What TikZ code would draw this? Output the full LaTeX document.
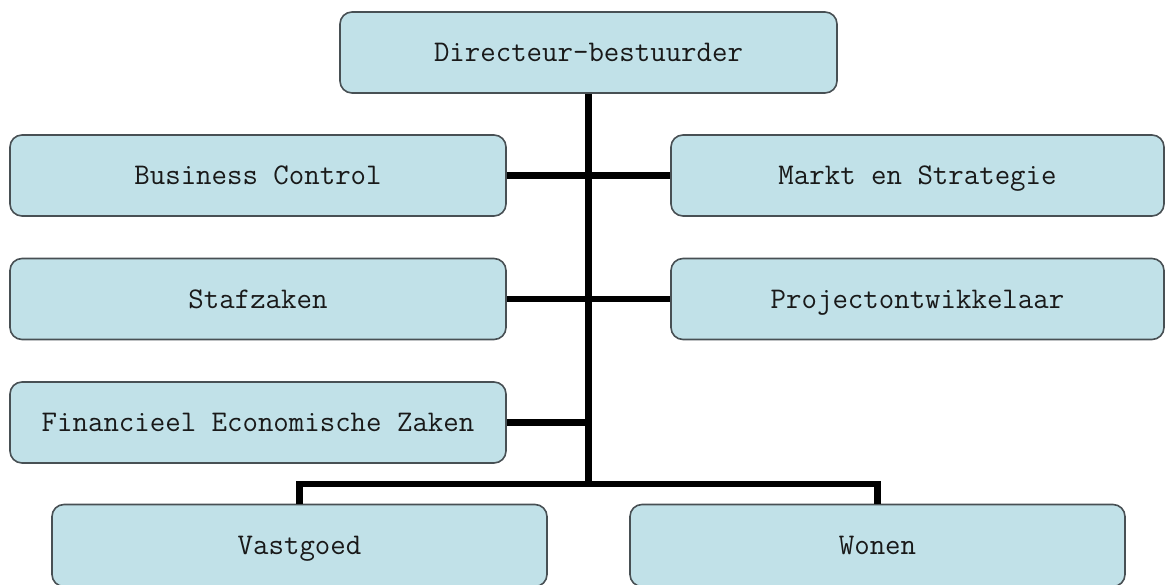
\documentclass[tikz,border=0pt]{standalone}
\definecolor{boxfill}{RGB}{193,225,232}
\definecolor{boxline}{RGB}{72,80,84}
\definecolor{txt}{RGB}{25,25,25}
\begin{document}
\begin{tikzpicture}[x=1pt,y=-1pt,
  orgbox/.style={draw=boxline, line width=1.6pt, fill=boxfill, rounded corners=12pt,
    minimum height=81pt, inner sep=0pt, text=txt, text height=24pt, text depth=6pt,
    font=\ttfamily\fontsize{30}{34}\selectfont},
  wire/.style={draw=black, line width=6.5pt}]
\useasboundingbox (0,0) rectangle (1166,585);
\node[orgbox, minimum width=497pt] (dir) at (588.5,52.5) {Directeur-bestuurder};
\node[orgbox, minimum width=496pt] (bc) at (258,175.5) {Business Control};
\node[orgbox, minimum width=493pt] (ms) at (917.5,175.5) {Markt en Strategie};
\node[orgbox, minimum width=496pt] (sz) at (258,299) {Stafzaken};
\node[orgbox, minimum width=493pt] (po) at (917.5,299) {Projectontwikkelaar};
\node[orgbox, minimum width=496pt] (fez) at (258,422.5) {Financieel Economische Zaken};
\node[orgbox, minimum width=495pt, minimum height=82pt] (vg) at (299.5,545.5) {Vastgoed};
\node[orgbox, minimum width=495pt, minimum height=82pt] (wo) at (877.5,545.5) {Wonen};
\coordinate (bus) at (588.5,484);
\draw[wire] (dir.south) -- (bus);
\draw[wire] (bc.east) -- (ms.west);
\draw[wire] (sz.east) -- (po.west);
\draw[wire] (fez.east) -- (fez.east -| bus);
\draw[wire] (vg.north) |- (bus) -| (wo.north);
\end{tikzpicture}
\end{document}
